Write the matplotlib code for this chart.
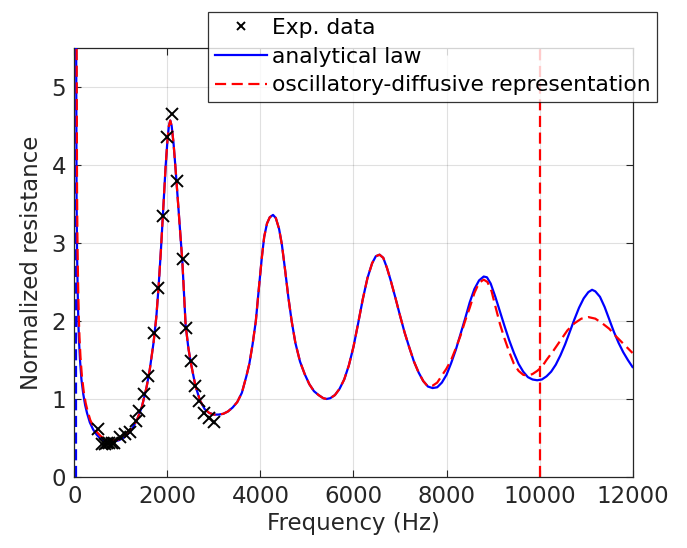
import matplotlib
matplotlib.use("Agg")
import matplotlib.pyplot as plt

# Experimental points (Hz, normalized resistance)
exp_f = [512, 600, 650, 700, 750, 800, 850, 978, 1086, 1194, 1316, 1394, 1495,
         1581, 1710, 1802, 1897, 1996, 2090, 2198, 2327, 2391, 2499, 2598,
         2684, 2785, 2899, 3000]
exp_r = [0.61, 0.42, 0.42, 0.43, 0.43, 0.44, 0.44, 0.51, 0.55, 0.58, 0.72, 0.85,
         1.06, 1.30, 1.85, 2.42, 3.34, 4.36, 4.65, 3.80, 2.79, 1.91, 1.49, 1.17,
         0.97, 0.82, 0.76, 0.71]

# Analytical law
ana_f = [30, 45, 55, 70, 85, 100, 120, 150, 190, 230, 270, 330, 400, 480, 560,
         650, 750, 850, 950, 1050, 1150, 1250, 1350, 1450, 1550, 1620, 1700,
         1760, 1810, 1860, 1910, 1960, 2000, 2030, 2060, 2090, 2130, 2170, 2210,
         2260, 2320, 2390, 2450, 2500, 2600, 2700, 2800, 2900, 3000, 3100, 3200,
         3300, 3400, 3500, 3600, 3700, 3760, 3830, 3900, 3970, 4030, 4080, 4140,
         4200, 4270, 4330, 4400, 4460, 4530, 4600, 4670, 4750, 4850, 4950, 5050,
         5150, 5250, 5350, 5420, 5500, 5600, 5700, 5800, 5900, 6000, 6100, 6200,
         6300, 6400, 6480, 6560, 6640, 6720, 6800, 6900, 7000, 7100, 7200, 7300,
         7400, 7500, 7600, 7700, 7800, 7900, 8000, 8100, 8200, 8300, 8400, 8500,
         8600, 8700, 8800, 8870, 8950, 9050, 9150, 9250, 9350, 9450, 9550, 9650,
         9750, 9850, 9950, 10050, 10150, 10250, 10350, 10450, 10550, 10650,
         10750, 10850, 10950, 11050, 11130, 11200, 11300, 11400, 11500, 11600,
         11700, 11800, 11900, 12000]
ana_r = [7.0, 3.6, 2.9, 2.35, 1.95, 1.72, 1.49, 1.25, 1.06, 0.92, 0.82, 0.70,
         0.61, 0.54, 0.49, 0.46, 0.45, 0.455, 0.47, 0.50, 0.55, 0.63, 0.74, 0.90,
         1.15, 1.38, 1.72, 2.05, 2.45, 2.92, 3.44, 3.98, 4.32, 4.50, 4.57, 4.50,
         4.28, 3.98, 3.65, 3.22, 2.76, 1.95, 1.65, 1.47, 1.17, 0.98, 0.87, 0.82,
         0.80, 0.80, 0.81, 0.84, 0.89, 0.96, 1.08, 1.30, 1.45, 1.70, 2.00, 2.45,
         2.82, 3.08, 3.25, 3.33, 3.36, 3.32, 3.18, 2.98, 2.65, 2.30, 2.00, 1.72,
         1.48, 1.32, 1.19, 1.10, 1.05, 1.01, 1.00, 1.01, 1.05, 1.13, 1.25, 1.43,
         1.67, 1.97, 2.28, 2.55, 2.74, 2.83, 2.85, 2.81, 2.68, 2.52, 2.30, 2.07,
         1.85, 1.66, 1.48, 1.34, 1.23, 1.16, 1.14, 1.15, 1.21, 1.31, 1.46, 1.63,
         1.83, 2.03, 2.24, 2.41, 2.52, 2.57, 2.56, 2.48, 2.31, 2.12, 1.93, 1.75,
         1.59, 1.45, 1.35, 1.28, 1.25, 1.24, 1.25, 1.29, 1.35, 1.44, 1.56, 1.70,
         1.86, 2.02, 2.17, 2.29, 2.37, 2.40, 2.38, 2.31, 2.18, 2.02, 1.86, 1.72,
         1.60, 1.50, 1.41]

# Oscillatory-diffusive representation
od_f = [40, 55, 65, 80, 95, 110, 130, 160, 200, 240, 280, 340, 410, 490, 570,
        650, 750, 850, 950, 1050, 1150, 1250, 1350, 1450, 1550, 1620, 1700,
        1760, 1810, 1860, 1910, 1960, 2000, 2030, 2060, 2090, 2130, 2170, 2210,
        2260, 2320, 2390, 2450, 2500, 2600, 2700, 2800, 2900, 3000, 3100, 3200,
        3300, 3400, 3500, 3600, 3700, 3760, 3830, 3900, 3970, 4030, 4080, 4140,
        4200, 4270, 4330, 4400, 4460, 4530, 4600, 4670, 4750, 4850, 4950, 5050,
        5150, 5250, 5350, 5420, 5500, 5600, 5700, 5800, 5900, 6000, 6100, 6200,
        6300, 6400, 6480, 6560, 6640, 6720, 6800, 6900, 7000, 7100, 7200, 7300,
        7400, 7500, 7600, 7700, 7800, 7900, 8000, 8100, 8200, 8300, 8400, 8500,
        8600, 8700, 8800, 8880, 8970, 9050, 9150, 9250, 9350, 9450, 9550, 9650,
        9750, 9850, 9950, 10050, 10150, 10300, 10450, 10600, 10750, 10900,
        11050, 11200, 11350, 11500, 11650, 11800, 11950, 12000]
od_r = [7.0, 3.7, 2.95, 2.4, 2.0, 1.76, 1.53, 1.29, 1.09, 0.95, 0.85, 0.73,
        0.64, 0.57, 0.52, 0.49, 0.48, 0.47, 0.48, 0.51, 0.56, 0.63, 0.74, 0.90,
        1.15, 1.38, 1.72, 2.05, 2.45, 2.92, 3.44, 3.98, 4.32, 4.50, 4.57, 4.50,
        4.28, 3.98, 3.65, 3.22, 2.76, 1.95, 1.65, 1.47, 1.17, 0.98, 0.87, 0.82,
        0.80, 0.80, 0.81, 0.84, 0.89, 0.96, 1.08, 1.30, 1.45, 1.70, 2.00, 2.45,
        2.82, 3.08, 3.25, 3.33, 3.36, 3.32, 3.18, 2.98, 2.65, 2.30, 2.00, 1.72,
        1.48, 1.32, 1.19, 1.10, 1.05, 1.01, 1.00, 1.01, 1.05, 1.13, 1.25, 1.43,
        1.67, 1.97, 2.28, 2.55, 2.74, 2.83, 2.85, 2.81, 2.68, 2.52, 2.30, 2.07,
        1.85, 1.66, 1.48, 1.34, 1.23, 1.16, 1.17, 1.21, 1.30, 1.39, 1.50, 1.65,
        1.81, 2.00, 2.17, 2.36, 2.49, 2.53, 2.50, 2.38, 2.19, 1.96, 1.77, 1.60,
        1.45, 1.36, 1.31, 1.30, 1.32, 1.36, 1.41, 1.50, 1.62, 1.75, 1.88, 1.97,
        2.03, 2.05, 2.03, 1.97, 1.90, 1.80, 1.71, 1.62, 1.59]

f_low = 25       # lower frequency bound (blue dashed)
f_high = 10000   # upper frequency bound (red dashed)

x_ticks = [0, 2000, 4000, 6000, 8000, 10000, 12000]
y_ticks = [0, 1, 2, 3, 4, 5]

txt = '#262626'
plt.rcParams['font.family'] = 'DejaVu Sans'

fig = plt.figure(figsize=(6.87, 5.48), dpi=100)
ax = fig.add_axes([0.1084, 0.1296, 0.8123, 0.7828])

ax.plot(exp_f, exp_r, 'x', color='black', ms=8, mew=1.4, label='Exp. data', zorder=5)
ax.plot(ana_f, ana_r, '-', color='#0000FF', lw=1.6, label='analytical law', zorder=3)
ax.plot(od_f, od_r, color='#FF0000', lw=1.6, ls=(0, (5, 2.5)),
        label='oscillatory-diffusive representation', zorder=4)
ax.axvline(f_low, color='#0000FF', lw=1.6, ls=(0, (5, 2.5)), zorder=2)
ax.axvline(f_high, color='#FF0000', lw=1.6, ls=(0, (5, 2.5)), zorder=2)

ax.set_xlim(0, 12000)
ax.set_ylim(0, 5.5)
ax.set_xticks(x_ticks)
ax.set_yticks(y_ticks)
ax.grid(True, color='#000000', alpha=0.12, lw=0.8)
ax.tick_params(direction='in', length=5, width=0.8, colors=txt, labelsize=16.5,
               top=True, right=True, pad=6)
for s in ax.spines.values():
    s.set_color(txt)
    s.set_linewidth(0.9)

ax.set_xlabel('Frequency (Hz)', fontsize=16.5, color=txt, labelpad=3)
ax.set_ylabel('Normalized resistance', fontsize=16.5, color=txt, labelpad=6)

leg = ax.legend(loc='upper right', bbox_to_anchor=(0.957, 0.979),
                bbox_transform=fig.transFigure, fontsize=15.7, frameon=True,
                fancybox=False, edgecolor='black', handlelength=2.4,
                handletextpad=0.25, labelspacing=0.4, borderpad=0.3,
                borderaxespad=0, markerscale=0.8)
leg.get_frame().set_linewidth(0.9)
for t in leg.get_texts():
    t.set_color('black')

fig.savefig('out.png', dpi=100, facecolor='white')
